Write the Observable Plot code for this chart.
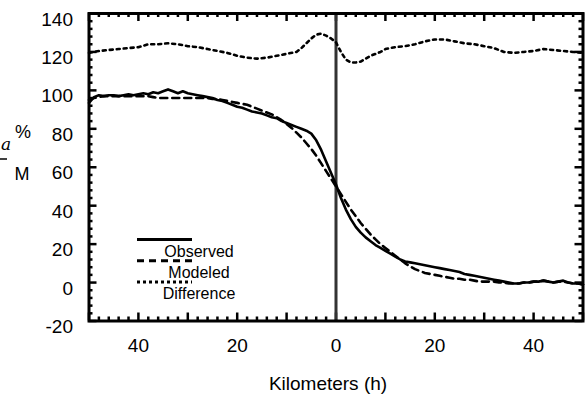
<!DOCTYPE html>
<html>
<head>
<meta charset="utf-8">
<script src="https://cdn.jsdelivr.net/npm/d3@7"></script>
<script src="https://cdn.jsdelivr.net/npm/@observablehq/plot@0.6"></script>
<style>
  html, body { margin: 0; padding: 0; background: #fff; }
  #chart { width: 587px; height: 394px; }
  svg { font-family: "Liberation Sans", Arial, sans-serif; }
</style>
</head>
<body>
<div id="chart"></div>
<script>
// ---- Data ----
const obsX = d3.range(-50, 51, 1);
const observed = [
  93.5, 96.5, 97.5, 97, 97.5, 97.5, 97, 97.5, 98, 97.5,
  98, 98.5, 98, 99, 98.5, 99.5, 100.5, 99.5, 98.5, 99.5,
  98.5, 98, 97.5, 97, 96.5, 96, 95, 94.5, 93.5, 92.5,
  91.5, 91, 90, 89, 88.5, 88, 87, 86, 85.5, 84,
  83, 82, 81, 80, 79, 77.5, 74, 69, 63, 57,
  51,
  44, 38, 33, 29, 26, 23.5, 21.5, 19.5, 18, 16.5,
  15, 13.5, 12, 11, 10.5, 10, 9.5, 9, 8.5, 8,
  7.5, 7, 6.5, 6, 5.5, 4.5, 4, 3.5, 3, 2.5,
  2, 1.5, 1, 0.5, 0, -0.5, -0.5, 0, 0, 0.5,
  0.5, 1, 0.5, 0, 0.5, 1, 0, -0.5, -0.5, -1
];
const modeled = [
  95, 96, 96.5, 97, 97, 97, 97, 97, 97, 97,
  97, 97, 97, 96.5, 96, 96, 96, 96, 96, 96,
  96, 96, 96, 96, 96, 95.5, 95.5, 95, 94.5, 94,
  93.5, 93, 92.5, 91.5, 90.5, 89.5, 88.5, 87.5, 86, 84.5,
  82.5, 80.5, 78, 75.5, 72.5, 69.5, 66, 62, 58, 54,
  50,
  46, 42, 38, 34.5, 31, 28, 25, 22.5, 20, 18,
  16, 14, 12, 10, 8.5, 7, 6, 5, 4.5, 4,
  3.5, 3, 2.5, 2, 2, 1.5, 1.5, 1, 0.5, 0.5,
  0.5, 0.5, 0, 0, -0.5, -0.5, -0.5, 0, 0, 0.5,
  0.5, 1, 0.5, 0, 0.5, 0.5, 0, -0.5, -0.5, -1
];
const diffX = [-50, -48, -46, -44, -42, -40, -38, -36, -34, -32, -30, -28, -26, -24, -22, -20, -18, -16, -14, -12, -10, -8, -7, -6, -5, -4, -3, -2, -1, 0, 1, 2, 3, 4, 5, 6, 7, 8, 9, 10, 12, 14, 16, 18, 20, 22, 24, 26, 28, 30, 32, 34, 36, 38, 40, 42, 44, 46, 48, 50];
const difference = [119.5, 120.5, 121, 121.5, 122, 122.5, 124, 124, 124.5, 124, 123, 122.5, 121.5, 120.5, 119.5, 118, 117, 116.5, 117, 118, 119, 120, 122, 124.5, 127, 129, 129.5, 128.5, 127, 125, 120, 116, 114.5, 114.5, 115, 116.5, 118, 119, 120, 121.5, 122.5, 123, 124, 125.5, 126.5, 126.5, 125.5, 124.5, 124, 123, 122, 120, 119.5, 120, 120.5, 121.5, 121, 120.5, 120, 119.5];

const xTickValues = [-40, -20, 0, 20, 40];
const yTickValues = [-20, 0, 20, 40, 60, 80, 100, 120, 140];
const seriesNames = ["Observed", "Modeled", "Difference"];
const xLabel = "Kilometers (h)";

// ---- Build ----
const W = 587, H = 394;
const mL = 88.5, mR = 4.5, mT = 13, mB = 73.5;
const pw = W - mL - mR, ph = H - mT - mB;

const obsData = obsX.map((x, i) => ({x, y: observed[i]}));
const modData = obsX.map((x, i) => ({x, y: modeled[i]}));
const difData = diffX.map((x, i) => ({x, y: difference[i]}));

const majorX = d3.range(-50, 51, 10);
const minorX = d3.range(-50, 51, 2).filter(v => v % 10 !== 0);
const majorY = d3.range(-20, 141, 20);
const minorY = d3.range(-20, 141, 4).filter(v => (v + 20) % 20 !== 0);

const tickStyle = {stroke: "black", strokeWidth: 2.5};
const big = 8, small = 4;

const chart = Plot.plot({
  width: W, height: H,
  marginLeft: mL, marginRight: mR, marginTop: mT, marginBottom: mB,
  style: {fontFamily: "Liberation Sans, Arial, sans-serif", background: "white"},
  x: {domain: [-50, 50]},
  y: {domain: [-20, 140]},
  marks: [
    Plot.axisX(xTickValues, {anchor: "bottom", tickSize: 0, tickPadding: 17, fontSize: 19, tickFormat: d => String(Math.abs(d)), label: null, fill: "black"}),
    Plot.axisY(yTickValues, {anchor: "left", tickSize: 0, tickPadding: 16, fontSize: 19, dy: 6, tickFormat: d => String(d), label: null, fill: "black"}),
    // inward tick marks
    Plot.tickX(majorX, {x: d => d, insetTop: ph - big, ...tickStyle}),
    Plot.tickX(minorX, {x: d => d, insetTop: ph - small, ...tickStyle}),
    Plot.tickX(majorX, {x: d => d, insetBottom: ph - big, ...tickStyle}),
    Plot.tickX(minorX, {x: d => d, insetBottom: ph - small, ...tickStyle}),
    Plot.tickY(majorY, {y: d => d, insetRight: pw - big, ...tickStyle}),
    Plot.tickY(minorY, {y: d => d, insetRight: pw - small, ...tickStyle}),
    Plot.tickY(majorY, {y: d => d, insetLeft: pw - big, ...tickStyle}),
    Plot.tickY(minorY, {y: d => d, insetLeft: pw - small, ...tickStyle}),
    Plot.ruleX([0], {stroke: "#333", strokeWidth: 3}),
    Plot.line(difData, {x: "x", y: "y", stroke: "black", strokeWidth: 2.6, strokeDasharray: "3,4", curve: "linear"}),
    Plot.line(modData, {x: "x", y: "y", stroke: "black", strokeWidth: 2.6, strokeDasharray: "7,5"}),
    Plot.line(obsData, {x: "x", y: "y", stroke: "black", strokeWidth: 2.6}),
    Plot.frame({stroke: "black", strokeWidth: 3})
  ]
});

const svg = d3.select(chart);
// x-axis label
svg.append("text").attr("x", 328).attr("y", 390).attr("text-anchor", "middle")
  .attr("font-size", 19).attr("fill", "black").text(xLabel);
// y-axis label pieces
svg.append("text").attr("x", 23).attr("y", 138).attr("text-anchor", "middle")
  .attr("font-size", 18).attr("fill", "black").text("%");
svg.append("text").attr("x", 22).attr("y", 180).attr("text-anchor", "middle")
  .attr("font-size", 18).attr("fill", "black").text("M");
svg.append("text").attr("x", 1).attr("y", 150).attr("text-anchor", "start")
  .attr("font-size", 17).attr("font-style", "italic").attr("font-family", "DejaVu Serif, serif")
  .attr("fill", "black").text("a");
svg.append("line").attr("x1", 0).attr("x2", 7).attr("y1", 159).attr("y2", 159)
  .attr("stroke", "black").attr("stroke-width", 1.5);

// legend
const dashes = [null, "7,5", "3,3"];
const lg = svg.append("g");
seriesNames.forEach((name, i) => {
  const ly = 239.5 + i * 21.2;
  lg.append("line").attr("x1", 137).attr("x2", 192).attr("y1", ly).attr("y2", ly)
    .attr("stroke", "black").attr("stroke-width", 3)
    .attr("stroke-dasharray", dashes[i]);
  lg.append("text").attr("x", 199).attr("y", ly + 17).attr("font-size", 16)
    .attr("fill", "black").text(name);
});

document.getElementById("chart").appendChild(chart);
</script>
</body>
</html>
